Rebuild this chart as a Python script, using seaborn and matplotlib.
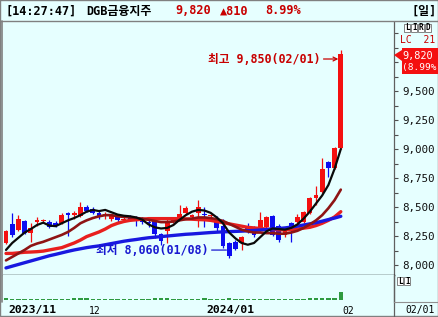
import numpy as np
import pandas as pd
import matplotlib
matplotlib.use("Agg")
import matplotlib.pyplot as plt
import matplotlib.transforms as mtransforms
import seaborn as sns
from matplotlib.patches import Rectangle, Polygon
from matplotlib.lines import Line2D
from matplotlib.ticker import FixedLocator

# ---------------- data ----------------
opens = [8190, 8350, 8300, 8380, 8280, 8370, 8380, 8370, 8360, 8360,
         8450, 8430, 8420, 8500, 8480, 8450, 8420, 8400, 8430, 8390,
         8410, 8400, 8390, 8370, 8390, 8270, 8290, 8380, 8400, 8450,
         8410, 8450, 8440, 8420, 8400, 8340, 8190, 8200, 8190, 8330,
         8310, 8300, 8330, 8420, 8340, 8260, 8360, 8370, 8370, 8450,
         8580, 8630, 8890, 8840, 9010]
highs = [8300, 8450, 8430, 8390, 8360, 8410, 8400, 8390, 8380, 8450,
         8460, 8470, 8540, 8520, 8500, 8470, 8460, 8440, 8440, 8420,
         8430, 8420, 8410, 8390, 8400, 8280, 8400, 8410, 8520, 8510,
         8440, 8560, 8500, 8440, 8420, 8400, 8200, 8220, 8250, 8360,
         8340, 8460, 8420, 8430, 8350, 8330, 8370, 8440, 8470, 8590,
         8680, 8920, 8900, 9020, 9850]
lows = [8180, 8240, 8290, 8270, 8200, 8340, 8360, 8320, 8330, 8350,
        8250, 8400, 8410, 8460, 8440, 8400, 8400, 8380, 8370, 8380,
        8390, 8340, 8350, 8330, 8230, 8170, 8190, 8360, 8390, 8440,
        8400, 8330, 8330, 8380, 8290, 8150, 8060, 8130, 8130, 8280,
        8240, 8290, 8320, 8250, 8200, 8240, 8200, 8360, 8360, 8440,
        8520, 8620, 8760, 8830, 9000]
closes = [8290, 8260, 8400, 8280, 8320, 8390, 8385, 8330, 8340, 8430,
          8435, 8450, 8500, 8470, 8450, 8410, 8440, 8420, 8390, 8400,
          8400, 8380, 8370, 8360, 8270, 8210, 8380, 8390, 8440, 8495,
          8430, 8500, 8430, 8430, 8320, 8160, 8080, 8140, 8240, 8290,
          8260, 8390, 8410, 8260, 8220, 8310, 8320, 8410, 8460, 8580,
          8600, 8830, 8840, 9010, 9820]
ma5 = [8130, 8190, 8235, 8280, 8310, 8345, 8365, 8340, 8335, 8360,
       8385, 8405, 8430, 8460, 8475, 8465, 8475, 8455, 8435, 8425,
       8420, 8410, 8390, 8350, 8325, 8315, 8320, 8345, 8390, 8430,
       8460, 8475, 8470, 8450, 8410, 8360, 8280, 8230, 8190, 8175,
       8190, 8240, 8290, 8315, 8310, 8305, 8320, 8350, 8400, 8460,
       8530, 8600, 8690, 8830, 9000]
ma10 = [8040, 8070, 8100, 8130, 8165, 8185, 8200, 8220, 8240, 8260,
        8285, 8320, 8360, 8385, 8405, 8420, 8430, 8430, 8420, 8415,
        8410, 8405, 8400, 8390, 8380, 8370, 8370, 8375, 8385, 8395,
        8400, 8410, 8410, 8405, 8395, 8380, 8355, 8330, 8305, 8290,
        8280, 8280, 8275, 8275, 8270, 8270, 8280, 8295, 8320, 8350,
        8385, 8430, 8490, 8560, 8650]
ma20 = [8100, 8100, 8105, 8110, 8112, 8115, 8120, 8130, 8140, 8150,
        8170, 8190, 8215, 8245, 8265, 8285, 8310, 8340, 8360, 8375,
        8385, 8390, 8395, 8400, 8400, 8400, 8400, 8400, 8400, 8398,
        8395, 8392, 8390, 8385, 8375, 8365, 8355, 8345, 8335, 8325,
        8320, 8315, 8310, 8305, 8303, 8303, 8305, 8310, 8318, 8325,
        8340, 8360, 8385, 8415, 8460]
ma60 = [7975, 7990, 8005, 8020, 8035, 8050, 8065, 8080, 8092, 8105,
        8118, 8130, 8140, 8150, 8158, 8165, 8175, 8185, 8195, 8205,
        8213, 8220, 8228, 8235, 8240, 8245, 8250, 8255, 8260, 8265,
        8268, 8272, 8276, 8280, 8283, 8286, 8288, 8290, 8292, 8295,
        8298, 8302, 8306, 8310, 8315, 8320, 8327, 8335, 8345, 8355,
        8365, 8378, 8392, 8405, 8420]
volumes = [1.2, 0.9, 1.0, 0.8, 0.9, 0.7, 0.8, 0.9, 0.8, 1.0,
           1.1, 1.4, 1.5, 1.2, 0.9, 0.8, 0.8, 0.9, 0.8, 0.8,
           0.7, 0.9, 0.8, 0.9, 1.3, 1.2, 1.3, 1.1, 1.0, 1.1,
           0.9, 1.0, 1.2, 1.0, 1.0, 1.1, 1.3, 1.0, 0.9, 0.8,
           0.9, 0.8, 1.0, 0.9, 0.9, 0.8, 0.9, 1.0, 1.1, 1.4,
           1.3, 1.5, 1.2, 1.6, 6.2]
date_ticks = [0, 13, 32, 54]
date_labels = ["2023/11", "12", "2024/01", "02"]
date_bold = [True, False, True, False]
price_ticks = [8000, 8250, 8500, 8750, 9000, 9250, 9500]
high_idx, high_val, high_text = 54, 9850, "최고 9,850(02/01)"
low_idx, low_val, low_text = 36, 8060, "최저 8,060(01/08)"
title_time = "[14:27:47]"
title_name = "DGB금융지주"
title_price = "9,820"
title_change = "▲810"
title_pct = "8.99%"
last_date = "02/01"

# ---------------- style ----------------
sns.set_style("white")
plt.rcParams["font.family"] = ["DejaVu Sans Mono", "Noto Sans CJK KR", "DejaVu Sans"]

W, H = 439, 317
BG = "#E6FFFF"
UP = "#F41010"
DN = "#0C0CF0"
TXT_RED = "#C80000"

fig = plt.figure(figsize=(W / 100, H / 100), dpi=100, facecolor=BG)

def P(x, y):
    return (x / W, 1 - y / H)

def frect(x0, y0, x1, y1, **kw):
    fig.add_artist(Rectangle(P(x0, y1), (x1 - x0) / W, (y1 - y0) / H,
                             transform=fig.transFigure, **kw))

def fline(xs, ys, **kw):
    fig.add_artist(Line2D([x / W for x in xs], [1 - y / H for y in ys],
                          transform=fig.transFigure, **kw))

idx = np.arange(len(closes))
XLIM = (-0.484, 62.58)

# ---------------- main price panel ----------------
ax = fig.add_axes([3 / W, 1 - 275 / H, 391 / W, 253 / H])
ax.set_facecolor(BG)
ax.set_xlim(*XLIM)
ax.set_ylim(7914, 10095)

for i in idx:
    o, h, l, c = opens[i], highs[i], lows[i], closes[i]
    col = UP if c >= o else DN
    ax.vlines(i, l, h, color=col, lw=0.9, zorder=2)
    body = max(abs(c - o), 10)
    ax.bar(i, body, bottom=min(o, c), width=0.8, color=col, lw=0, zorder=2)

df = pd.DataFrame({"i": idx, "ma5": ma5, "ma10": ma10, "ma20": ma20, "ma60": ma60})
sns.lineplot(data=df, x="i", y="ma20", ax=ax, color="#E8201E", lw=2.4, zorder=3)
sns.lineplot(data=df, x="i", y="ma60", ax=ax, color="#1818E0", lw=2.4, zorder=3)
sns.lineplot(data=df, x="i", y="ma10", ax=ax, color="#8E1414", lw=1.9, zorder=4)
sns.lineplot(data=df, x="i", y="ma5", ax=ax, color="#0A0A0A", lw=1.6, zorder=5)

ax.set_xlabel("")
ax.set_ylabel("")
ax.set_xticks([])
ax.yaxis.tick_right()
ax.set_yticks(price_ticks)
ax.set_yticklabels([f"{v:,}" for v in price_ticks])
ax.yaxis.set_minor_locator(FixedLocator(np.arange(7875, 10001, 125)))
ax.tick_params(axis="y", which="both", direction="out", length=3, width=0.8,
               color="#505050", pad=3, labelsize=7.8, labelcolor="#101010")
for s in ["top", "left"]:
    ax.spines[s].set_visible(False)
ax.spines["right"].set_color("#606060")
ax.spines["right"].set_linewidth(0.9)
ax.spines["bottom"].set_color("#000000")
ax.spines["bottom"].set_linewidth(1.0)

# annotations
ax.annotate(high_text, xy=(high_idx - 0.4, 9776), xytext=(-13, 0),
            textcoords="offset points", ha="right", va="center",
            color=TXT_RED, fontsize=8.4, fontweight="bold",
            arrowprops=dict(arrowstyle="->", color=TXT_RED, lw=0.9,
                            shrinkA=0, shrinkB=0, mutation_scale=7), zorder=6)
ax.annotate(low_text, xy=(low_idx - 0.45, 8129), xytext=(-13, 0),
            textcoords="offset points", ha="right", va="center",
            color="#1818D0", fontsize=8.4, fontweight="bold",
            arrowprops=dict(arrowstyle="-", color="#1818D0", lw=0.9,
                            shrinkA=0, shrinkB=0), zorder=6)

# ---------------- volume panel ----------------
vax = fig.add_axes([3 / W, 1 - 302 / H, 391 / W, 27 / H])
vax.set_facecolor(BG)
vax.set_xlim(*XLIM)
vmax = max(volumes)
vax.set_ylim(-vmax * 0.25, vmax * 3.12)
vax.bar(idx, volumes, width=0.72, color="#2E9A40", lw=0)
vax.set_yticks([])
for s in ["top", "left", "bottom"]:
    vax.spines[s].set_visible(False)
vax.spines["right"].set_color("#606060")
vax.spines["right"].set_linewidth(0.9)
vax.set_xticks(date_ticks)
vax.set_xticklabels([])
vax.tick_params(axis="x", direction="out", length=4, width=0.8, color="#606060")

lab_tr = mtransforms.blended_transform_factory(vax.transData, fig.transFigure) + \
    mtransforms.ScaledTranslation(2 / 100, 0, fig.dpi_scale_trans)
for t, lab, b in zip(date_ticks, date_labels, date_bold):
    vax.text(t, 1 - 310.5 / H, lab, transform=lab_tr, ha="left", va="center",
             fontsize=8.2 if b else 7.0, fontweight="bold" if b else "normal",
             color="#000000", clip_on=False)

# ---------------- frame & header ----------------
frect(0, 0, W - 1, H - 1, facecolor="none", edgecolor="#808080", lw=1.0)
frect(0, 0, W - 1, 21, facecolor=BG, edgecolor="#808080", lw=1.0)
fline([2, 2], [21, 302], color="#808080", lw=1.2)
fline([394, 394], [275, 317], color="#606060", lw=0.9)
fline([394, W], [302, 302], color="#909090", lw=0.8)

ty = 1 - 11 / H
fig.text(5 / W, ty, title_time, fontsize=8.6, fontweight="bold", va="center", color="#000000")
fig.text(86 / W, ty, title_name, fontsize=8.6, fontweight="bold", va="center", color="#000000")
fig.text(175 / W, ty, title_price, fontsize=8.6, fontweight="bold", va="center", color=TXT_RED)
fig.text(220 / W, ty, title_change, fontsize=8.6, fontweight="bold", va="center", color=TXT_RED)
fig.text(265 / W, ty, title_pct, fontsize=8.6, fontweight="bold", va="center", color=TXT_RED)
fig.text(437 / W, ty, "[일]", fontsize=8.6, fontweight="bold", va="center", ha="right", color="#000000")

# small LIRD boxes
for k, ch in enumerate("LIRD"):
    x0 = 404 + k * 7
    frect(x0, 24, x0 + 6.5, 32, facecolor="#FFFFFF", edgecolor="#707070", lw=0.6)
    fig.text((x0 + 3.3) / W, 1 - 28 / H, ch, fontsize=5.5, fontweight="bold",
             ha="center", va="center", color="#000000")
fig.text(400 / W, 1 - 40 / H, "LC  21", fontsize=7.0, va="center", color=TXT_RED)

# last-price box
fig.add_artist(Polygon([P(394, 55), P(402, 50), P(402, 61)], closed=True,
                       transform=fig.transFigure, facecolor=UP, edgecolor="none"))
frect(402, 48, W, 74, facecolor=UP, edgecolor="none")
fig.text(402.5 / W, 1 - 56 / H, title_price, fontsize=7.4, va="center", color="#FFFFFF")
fig.text(402.5 / W, 1 - 67.5 / H, "(" + title_pct, fontsize=6.8, va="center", color="#FFFFFF")

# bottom LI boxes
for k, ch in enumerate("LI"):
    x0 = 397 + k * 7
    frect(x0, 277, x0 + 6.5, 285, facecolor="#FFFFFF", edgecolor="#707070", lw=0.6)
    fig.text((x0 + 3.3) / W, 1 - 281 / H, ch, fontsize=5.5, fontweight="bold",
             ha="center", va="center", color="#000000")
fig.text(405 / W, 1 - 310.5 / H, last_date, fontsize=7.0, va="center", color="#000000")

fig.savefig("out.png", dpi=100, facecolor=BG)
